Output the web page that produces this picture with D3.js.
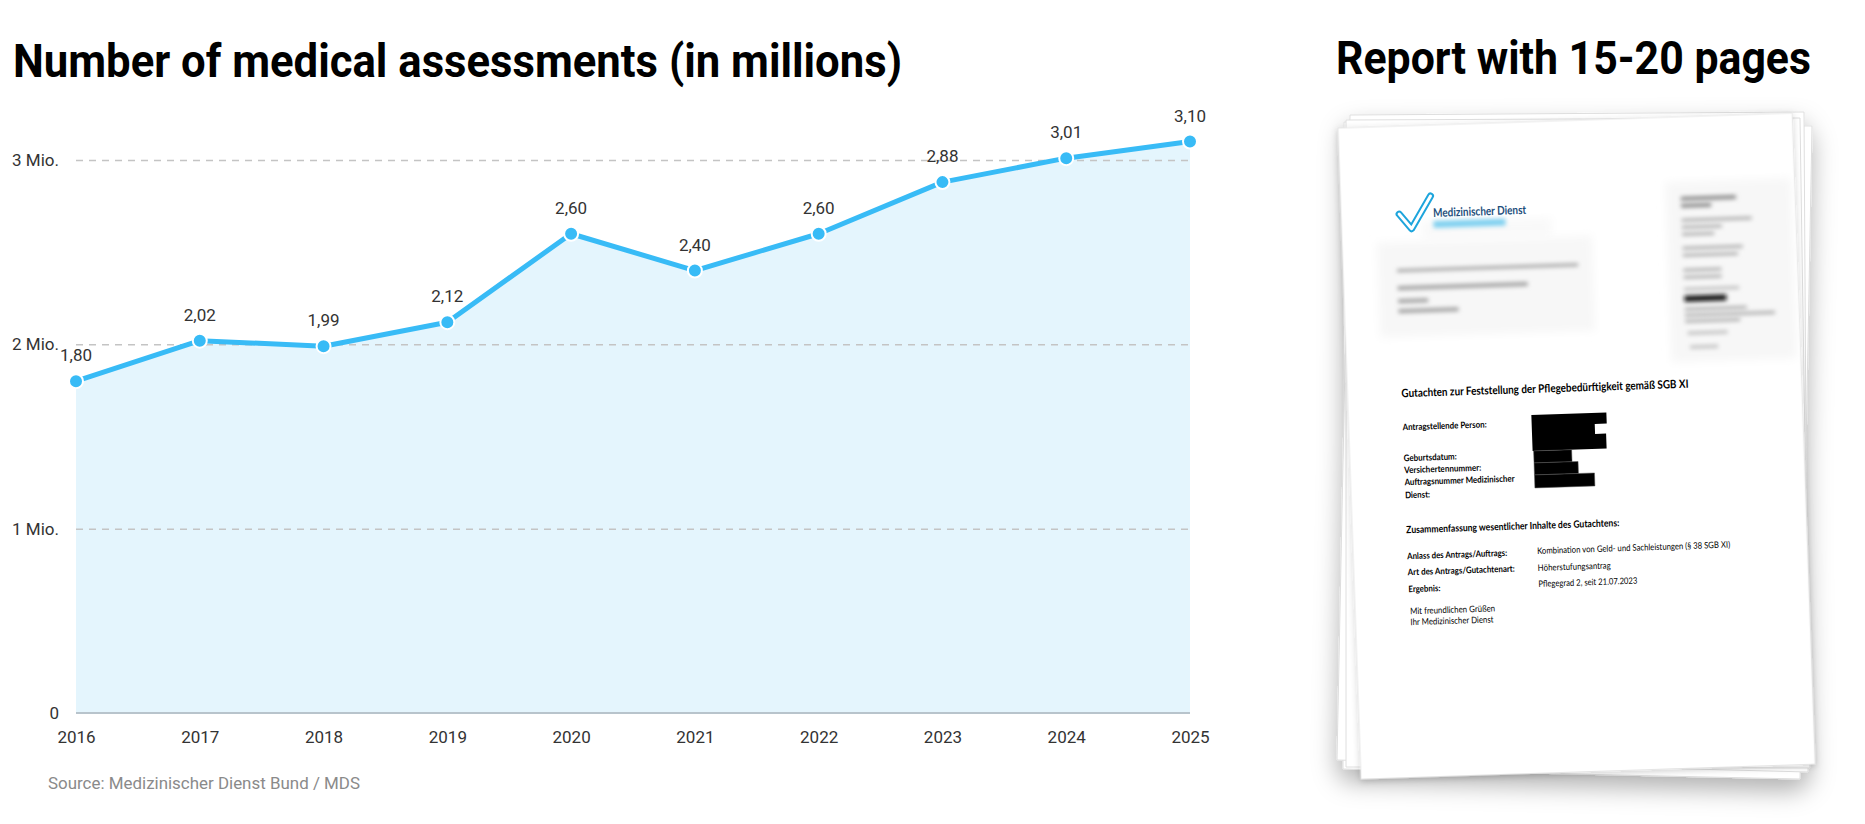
<!DOCTYPE html>
<html>
<head>
<meta charset="utf-8">
<script src="https://cdn.jsdelivr.net/npm/d3@7/dist/d3.min.js"></script>
<style>
  html, body { margin: 0; padding: 0; background: #fff; }
  svg { display: block; }
</style>
</head>
<body>
<script>
// ---------- DATA ----------
const years = ["2016", "2017", "2018", "2019", "2020", "2021", "2022", "2023", "2024", "2025"];
const values = [1.80, 2.02, 1.99, 2.12, 2.60, 2.40, 2.60, 2.88, 3.01, 3.10];
const yTicks = [0, 1, 2, 3];
const yTickLabels = ["0", "1 Mio.", "2 Mio.", "3 Mio."];
const chartTitle = "Number of medical assessments (in millions)";
const sideTitle = "Report with 15-20 pages";
const sourceText = "Source: Medizinischer Dienst Bund / MDS";

// document texts
const docHeading = "Gutachten zur Feststellung der Pflegebedürftigkeit gemäß SGB XI";
const docPersonLabels = ["Antragstellende Person:", "Geburtsdatum:", "Versichertennummer:", "Auftragsnummer Medizinischer", "Dienst:"];
const docSummaryHeading = "Zusammenfassung wesentlicher Inhalte des Gutachtens:";
const docSummaryLabels = ["Anlass des Antrags/Auftrags:", "Art des Antrags/Gutachtenart:", "Ergebnis:"];
const docSummaryValues = ["Kombination von Geld- und Sachleistungen (§ 38 SGB XI)", "Höherstufungsantrag", "Pflegegrad 2, seit 21.07.2023"];
const docClosing = ["Mit freundlichen Grüßen", "Ihr Medizinischer Dienst"];
const docLogoText = "Medizinischer Dienst";

// ---------- SETUP ----------
const W = 1865, H = 824;
const svg = d3.select("body").append("svg").attr("width", W).attr("height", H)
  .style("font-family", "Roboto, 'Noto Sans', sans-serif");

const defs = svg.append("defs");
const shadow = defs.append("filter").attr("id", "shadow")
  .attr("x", "-20%").attr("y", "-20%").attr("width", "140%").attr("height", "140%");
shadow.append("feDropShadow").attr("dx", 0).attr("dy", 12).attr("stdDeviation", 12)
  .attr("flood-color", "#000").attr("flood-opacity", 0.3);
const shadowSoft = defs.append("filter").attr("id", "shadowSoft")
  .attr("x", "-20%").attr("y", "-20%").attr("width", "140%").attr("height", "140%");
shadowSoft.append("feDropShadow").attr("dx", 0).attr("dy", 2).attr("stdDeviation", 3)
  .attr("flood-color", "#000").attr("flood-opacity", 0.18);
const blur = defs.append("filter").attr("id", "blur")
  .attr("x", "-30%").attr("y", "-150%").attr("width", "160%").attr("height", "400%");
blur.append("feGaussianBlur").attr("stdDeviation", 2);
const blurBig = defs.append("filter").attr("id", "blurBig")
  .attr("x", "-20%").attr("y", "-20%").attr("width", "140%").attr("height", "140%");
blurBig.append("feGaussianBlur").attr("stdDeviation", 4);

// ---------- TITLES ----------
svg.append("text").attr("x", 13).attr("y", 77)
  .attr("font-size", 46).attr("font-weight", 700).attr("fill", "#000")
  .attr("textLength", 889).attr("lengthAdjust", "spacingAndGlyphs")
  .text(chartTitle);
svg.append("text").attr("x", 1336).attr("y", 74)
  .attr("font-size", 46).attr("font-weight", 700).attr("fill", "#000")
  .attr("textLength", 475).attr("lengthAdjust", "spacingAndGlyphs")
  .text(sideTitle);

// ---------- CHART ----------
const x = d3.scalePoint().domain(years).range([76, 1190]);
const y = d3.scaleLinear().domain([0, 3]).range([713, 160]);
const fmt = d3.formatLocale({ decimal: ",", thousands: ".", grouping: [3], currency: ["", "€"] }).format(".2f");

const data = years.map((yr, i) => ({ year: yr, value: values[i] }));

// area
const area = d3.area().x(d => x(d.year)).y0(y(0)).y1(d => y(d.value));
svg.append("path").datum(data).attr("d", area).attr("fill", "#e4f5fd");

// gridlines + y labels via axis
const yAxis = d3.axisLeft(y).tickValues(yTicks)
  .tickFormat((d, i) => yTickLabels[i])
  .tickSize(-(x.range()[1] - x.range()[0])).tickPadding(17);
const gy = svg.append("g").attr("transform", `translate(${x.range()[0]},0)`).call(yAxis);
gy.select(".domain").remove();
gy.selectAll(".tick line").attr("stroke", "#c4c4c4").attr("stroke-width", 1.5)
  .attr("stroke-dasharray", "7,6")
  .filter(d => d === 0).remove();
gy.selectAll(".tick text").attr("font-size", 17).attr("fill", "#333")
  .attr("font-family", "Roboto, sans-serif");

// baseline
svg.append("line").attr("x1", x.range()[0]).attr("x2", x.range()[1])
  .attr("y1", y(0)).attr("y2", y(0)).attr("stroke", "#b8c4cc").attr("stroke-width", 2);

// x axis
const xAxis = d3.axisBottom(x).tickSize(0);
const gx = svg.append("g").attr("transform", `translate(0,${y(0)})`).call(xAxis);
gx.select(".domain").remove();
gx.selectAll(".tick text").attr("y", 30).attr("dy", 0)
  .attr("font-size", 17).attr("fill", "#333").attr("font-family", "Roboto, sans-serif");

// line
const line = d3.line().x(d => x(d.year)).y(d => y(d.value));
svg.append("path").datum(data).attr("d", line)
  .attr("fill", "none").attr("stroke", "#38bbf6").attr("stroke-width", 5)
  .attr("stroke-linejoin", "round");

// dots
svg.append("g").selectAll("circle").data(data).join("circle")
  .attr("cx", d => x(d.year)).attr("cy", d => y(d.value)).attr("r", 7)
  .attr("fill", "#38bbf6").attr("stroke", "#fff").attr("stroke-width", 2);

// value labels
svg.append("g").selectAll("text").data(data).join("text")
  .attr("x", d => x(d.year)).attr("y", d => y(d.value) - 20)
  .attr("text-anchor", "middle").attr("font-size", 17).attr("fill", "#333")
  .text(d => fmt(d.value));

// source
svg.append("text").attr("x", 48).attr("y", 789)
  .attr("font-size", 17).attr("fill", "#8a8a8a")
  .attr("textLength", 312).attr("lengthAdjust", "spacingAndGlyphs")
  .text(sourceText);

// ---------- DOCUMENT STACK ----------
const stack = svg.append("g");
const backSheets = [
  [[1344, 122], [1812, 126], [1800, 779], [1343, 769]],
  [[1350, 115], [1804, 112], [1808, 772], [1337, 760]],
  [[1346, 120], [1800, 118], [1810, 768], [1346, 767]]
];
stack.append("g").attr("filter", "url(#shadow)")
  .selectAll("polygon").data(backSheets).join("polygon")
  .attr("points", d => d.map(p => p.join(",")).join(" "))
  .attr("fill", "#fff").attr("stroke", "#dedede").attr("stroke-width", 1);

// top sheet via affine transform (local coordinates 454 x 651)
const pageW = 454, pageH = 651;
const page = stack.append("g")
  .attr("transform", `matrix(1,-0.033,0.0353,1,1338,128)`);
page.append("rect").attr("width", pageW).attr("height", pageH)
  .attr("fill", "#fff").attr("stroke", "#e2e2e2").attr("stroke-width", 0.8)
  .attr("filter", "url(#shadowSoft)");

// faint blurred background boxes
page.append("rect").attr("x", 35).attr("y", 116).attr("width", 215).attr("height", 95)
  .attr("fill", "#f7f7f7").attr("filter", "url(#blurBig)");
page.append("rect").attr("x", 325).attr("y", 65).attr("width", 125).attr("height", 180)
  .attr("fill", "#f7f7f7").attr("filter", "url(#blurBig)");
page.append("rect").attr("x", 80).attr("y", 96).attr("width", 130).attr("height", 20)
  .attr("fill", "#f9f9f9").attr("filter", "url(#blurBig)");

// logo
page.append("path").attr("d", "M58,88 L70,103 L90,71")
  .attr("fill", "none").attr("stroke", "#1ea5dc").attr("stroke-width", 7)
  .attr("stroke-linejoin", "round").attr("stroke-linecap", "round");
page.append("path").attr("d", "M58,88 L70,103 L90,71")
  .attr("fill", "none").attr("stroke", "#fff").attr("stroke-width", 3)
  .attr("stroke-linejoin", "round").attr("stroke-linecap", "round");
page.append("text").attr("x", 92).attr("y", 92)
  .attr("font-family", "Lato, sans-serif").attr("font-size", 12).attr("font-weight", 700)
  .attr("fill", "#1d4f7c").attr("textLength", 93).attr("lengthAdjust", "spacingAndGlyphs")
  .text(docLogoText);
page.append("rect").attr("x", 92).attr("y", 96).attr("width", 72).attr("height", 7)
  .attr("fill", "#7fd0f0").attr("filter", "url(#blur)");

// blurred address lines
const addrLines = [[54, 143, 181, 3], [54, 160, 130, 4], [54, 173, 30, 4], [54, 183, 60, 4]];
page.append("g").selectAll("rect").data(addrLines).join("rect")
  .attr("x", d => d[0]).attr("y", d => d[1]).attr("width", d => d[2]).attr("height", d => d[3])
  .attr("fill", "#a0a0a0").attr("filter", "url(#blur)");

// blurred right column lines
const rightLines = [
  [340, 80, 55, 4, "#8a8a8a"], [340, 87, 30, 4, "#8a8a8a"],
  [340, 102, 70, 3, "#aaa"], [340, 109, 40, 3, "#aaa"], [340, 116, 32, 3, "#aaa"],
  [340, 130, 60, 3, "#aaa"], [340, 137, 55, 3, "#aaa"],
  [340, 152, 38, 3, "#aaa"], [340, 159, 38, 3, "#aaa"],
  [340, 171, 55, 3, "#bbb"], [340, 179, 42, 6, "#111"],
  [340, 191, 62, 3, "#aaa"], [340, 197, 90, 3, "#aaa"], [340, 203, 55, 3, "#aaa"],
  [342, 215, 40, 3, "#bbb"], [344, 229, 28, 3, "#bbb"]
];
page.append("g").selectAll("rect").data(rightLines).join("rect")
  .attr("x", d => d[0]).attr("y", d => d[1]).attr("width", d => d[2]).attr("height", d => d[3])
  .attr("fill", d => d[4]).attr("filter", "url(#blur)");

// document text
const docFont = "Lato, 'Open Sans', sans-serif";
function docText(txt, xx, yy, size, weight, len) {
  page.append("text").attr("x", xx).attr("y", yy)
    .attr("font-family", docFont).attr("font-size", size).attr("font-weight", weight)
    .attr("fill", "#000").attr("textLength", len).attr("lengthAdjust", "spacingAndGlyphs")
    .text(txt);
}
docText(docHeading, 54, 271, 11.5, 700, 287);
const personY = [304, 335, 347, 359, 372];
const personLen = [84, 53, 77, 110, 25];
docPersonLabels.forEach((t, i) => docText(t, 54, personY[i], 9, 700, personLen[i]));

// redaction bars
page.append("path")
  .attr("d", "M183,293 L258,293 L258,304 L246,304 L246,314 L257,314 L257,329 L183,329 Z")
  .attr("fill", "#000");
const redBars = [[184, 329, 38, 12], [184, 341, 44, 12], [184, 353, 60, 13]];
page.append("g").selectAll("rect").data(redBars).join("rect")
  .attr("x", d => d[0]).attr("y", d => d[1]).attr("width", d => d[2]).attr("height", d => d[3])
  .attr("fill", "#000").attr("stroke", "#555").attr("stroke-width", 0.5);

docText(docSummaryHeading, 54, 407, 10, 700, 213);
const sumY = [433, 449, 466];
const sumLen = [100, 107, 32];
const valY = [432, 449, 465];
const valLen = [193, 73, 99];
docSummaryLabels.forEach((t, i) => docText(t, 54, sumY[i], 9, 700, sumLen[i]));
docSummaryValues.forEach((t, i) => docText(t, 184, valY[i], 9, 400, valLen[i]));
docText(docClosing[0], 55, 488, 9, 400, 85);
docText(docClosing[1], 55, 499, 9, 400, 83);
</script>
</body>
</html>
